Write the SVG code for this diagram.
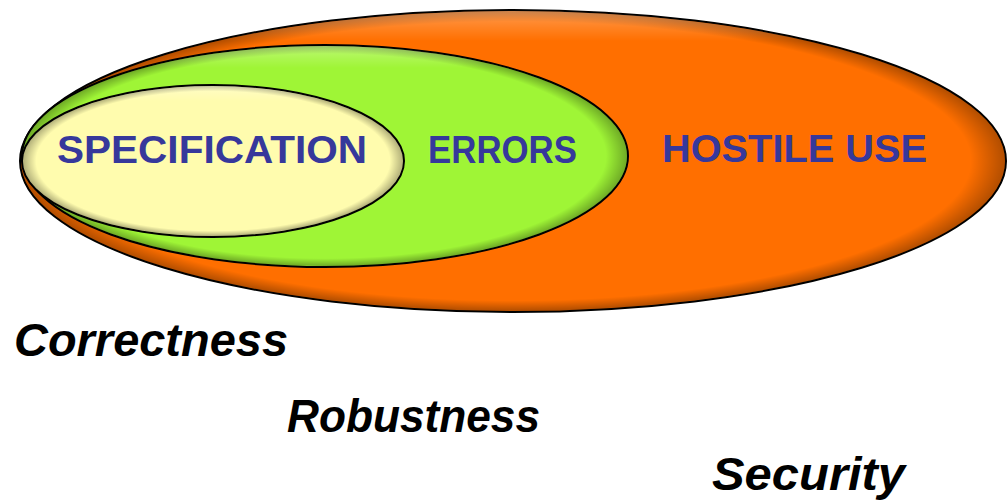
<svg xmlns="http://www.w3.org/2000/svg" width="1007" height="504" viewBox="0 0 1007 504">
<defs>
<radialGradient id="edge" cx="0.5" cy="0.5" r="0.5">
<stop offset="0.93" stop-color="#000" stop-opacity="0"/>
<stop offset="1" stop-color="#000" stop-opacity="0.3"/>
</radialGradient>
<linearGradient id="hl" x1="0" y1="0" x2="0" y2="1">
<stop offset="0" stop-color="#fff" stop-opacity="0.3"/>
<stop offset="0.1" stop-color="#fff" stop-opacity="0"/>
<stop offset="1" stop-color="#fff" stop-opacity="0"/>
</linearGradient>
<style>
.sh{stroke:#000;stroke-width:2}
.ov{fill:url(#edge);stroke:none}
.hi{fill:url(#hl);stroke:none}
.lbl{font-family:"Liberation Sans",Arial,sans-serif;font-weight:bold;font-size:38px;fill:#36389b}
.q{font-family:"Liberation Sans",Arial,sans-serif;font-weight:bold;font-style:italic;font-size:46px;fill:#000}
</style>
</defs>
<rect width="1007" height="504" fill="#fff"/>
<g id="hostile">
<ellipse cx="513" cy="161" rx="493" ry="151" fill="#ff6f00" class="sh"/>
<ellipse cx="513" cy="161" rx="492" ry="150" class="ov"/>
<ellipse cx="513" cy="161" rx="492" ry="150" class="hi"/>
<text class="lbl" x="662" y="162" textLength="265" lengthAdjust="spacingAndGlyphs">HOSTILE USE</text>
</g>
<g id="errors">
<ellipse cx="325" cy="156" rx="303" ry="111" fill="#9ff536" class="sh"/>
<ellipse cx="325" cy="156" rx="302" ry="110" class="ov"/>
<ellipse cx="325" cy="156" rx="302" ry="110" class="hi"/>
<text class="lbl" x="428" y="163" textLength="149" lengthAdjust="spacingAndGlyphs">ERRORS</text>
</g>
<g id="specification">
<ellipse cx="213" cy="161" rx="191" ry="76" fill="#fffcae" class="sh"/>
<ellipse cx="213" cy="161" rx="190" ry="75" class="ov"/>
<ellipse cx="213" cy="161" rx="190" ry="75" class="hi"/>
<text class="lbl" x="57" y="163" textLength="310" lengthAdjust="spacingAndGlyphs">SPECIFICATION</text>
</g>
<g id="connectors"></g>
<g id="captions">
<text class="q" x="14" y="356" textLength="274" lengthAdjust="spacingAndGlyphs">Correctness</text>
<text class="q" x="287" y="432" textLength="253" lengthAdjust="spacingAndGlyphs">Robustness</text>
<text class="q" x="712" y="490" textLength="193" lengthAdjust="spacingAndGlyphs">Security</text>
</g>
</svg>
